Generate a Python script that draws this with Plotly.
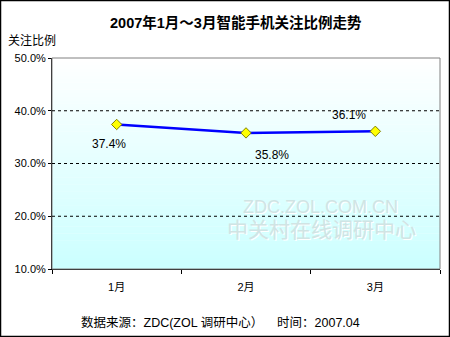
import plotly.graph_objects as go

categories = ["1月", "2月", "3月"]
values = [37.4, 35.8, 36.1]
labels = ["37.4%", "35.8%", "36.1%"]
y_ticks = [10, 20, 30, 40, 50]
y_tick_text = ["10.0%", "20.0%", "30.0%", "40.0%", "50.0%"]

FONT = "Arial, 'Noto Sans CJK SC', sans-serif"
W, H = 450, 337
ML, MR, MT, MB = 52, 10, 58, 68
PW, PH = W - ML - MR, H - MT - MB


def px(x):
    return (x - ML) / PW


def py(y):
    return (H - MB - y) / PH


fig = go.Figure()

# gradient background (white top -> light cyan bottom)
n = 60
shapes = []
for i in range(n):
    t = i / (n - 1)  # 0 bottom -> 1 top
    r = int(204 + (255 - 204) * t)
    col = f"rgb({r},255,255)"
    shapes.append(dict(type="rect", xref="x domain", yref="y domain",
                       x0=0, x1=1, y0=i / n, y1=(i + 1) / n + 0.002,
                       fillcolor=col, line=dict(width=0), layer="below"))
# plot border (gray)
shapes.append(dict(type="rect", xref="x domain", yref="y domain", x0=0, x1=1, y0=0, y1=1,
                   line=dict(color="#808080", width=1), layer="above"))
# dashed gridlines
for v in y_ticks[1:-1]:
    shapes.append(dict(type="line", xref="x domain", yref="y", x0=0, x1=1, y0=v, y1=v,
                       line=dict(color="black", width=1, dash="3px,3px"), layer="above"))
# outer border
shapes.append(dict(type="rect", xref="paper", yref="paper", x0=px(0.5), x1=px(W - 0.5),
                   y0=py(H - 0.5), y1=py(0.5), line=dict(color="black", width=1.5)))

fig.add_trace(go.Scatter(
    x=categories, y=values, mode="lines+markers",
    line=dict(color="#0000ff", width=2.5),
    marker=dict(symbol="diamond", size=8, color="#ffff00",
                line=dict(color="#808000", width=1)),
    hoverinfo="skip", showlegend=False, cliponaxis=False,
))

offsets = [(-8, -20), (26, -22), (-26, 16)]
annotations = []
for c, v, lab, (dx, dy) in zip(categories, values, labels, offsets):
    annotations.append(dict(x=c, y=v, xref="x", yref="y", text=lab, showarrow=False,
                            xshift=dx, yshift=dy, yanchor="middle",
                            font=dict(family=FONT, size=12, color="black")))

# watermark (embossed look)
for dx, dy, col in [(1, -1, "#ffffff"), (0, 0, "#d0e4e4")]:
    annotations.append(dict(x=px(320), y=py(207), xref="paper", yref="paper", text="ZDC.ZOL.COM.CN",
                            showarrow=False, xshift=dx, yshift=dy, xanchor="center", yanchor="middle",
                            font=dict(family=FONT, size=18, color=col)))
    annotations.append(dict(x=px(321), y=py(229), xref="paper", yref="paper", text="中关村在线调研中心",
                            showarrow=False, xshift=dx, yshift=dy, xanchor="center", yanchor="middle",
                            font=dict(family=FONT, size=21, color=col)))

# title, axis title, footer
annotations.append(dict(x=px(236), y=py(22), xref="paper", yref="paper",
                        xanchor="center", yanchor="middle",
                        text="<b>2007年1月～3月智能手机关注比例走势</b>", showarrow=False,
                        font=dict(family=FONT, size=14.5, color="black")))
annotations.append(dict(x=px(6), y=py(40), xref="paper", yref="paper", text="关注比例",
                        showarrow=False, xanchor="left", yanchor="middle",
                        font=dict(family=FONT, size=12, color="black")))
annotations.append(dict(x=px(220), y=py(322), xref="paper", yref="paper",
                        xanchor="center", yanchor="middle",
                        text="数据来源：ZDC(ZOL 调研中心）    时间：2007.04", showarrow=False,
                        font=dict(family=FONT, size=12.5, color="black")))

fig.update_layout(
    width=W, height=H,
    margin=dict(l=ML, r=MR, t=MT, b=MB),
    paper_bgcolor="white", plot_bgcolor="rgba(0,0,0,0)",
    shapes=shapes, annotations=annotations,
    font=dict(family=FONT, size=11, color="black"),
    xaxis=dict(type="category", range=[-0.5, 2.5], showgrid=False, showline=True,
               linecolor="black", linewidth=1, ticks="outside", tickson="boundaries",
               ticklen=4, tickcolor="black", tickfont=dict(size=11), ticklabelstandoff=8,
               fixedrange=True),
    yaxis=dict(range=[10, 50], tickvals=y_ticks, ticktext=y_tick_text, showgrid=False,
               showline=True, linecolor="black", linewidth=1, zeroline=False,
               ticks="outside", ticklen=3, tickcolor="black", tickfont=dict(size=11),
               fixedrange=True),
)

fig.write_html("out.html", config={"displayModeBar": False},
               post_script="document.body.style.margin='0';")
